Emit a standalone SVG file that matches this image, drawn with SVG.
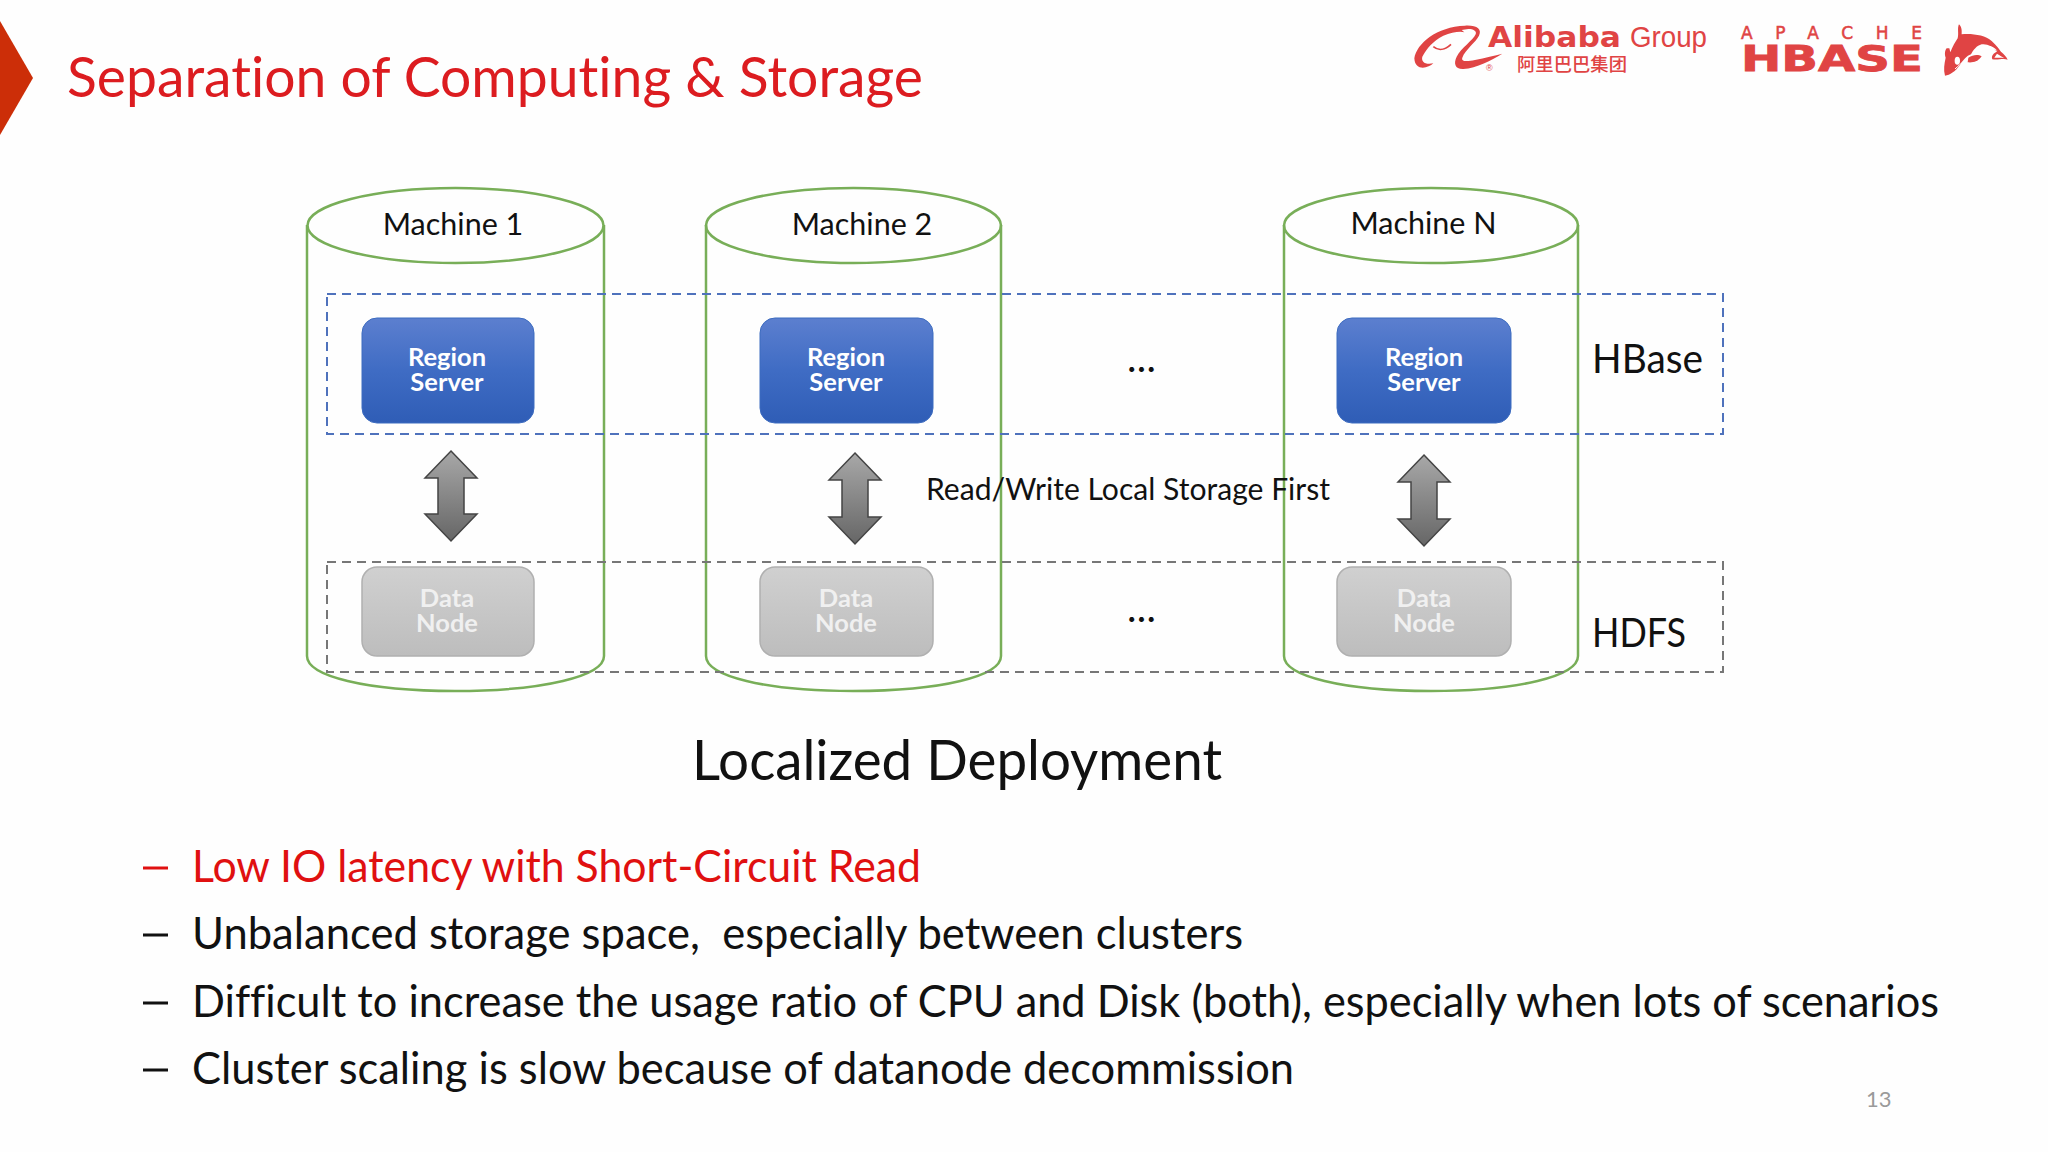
<svg xmlns="http://www.w3.org/2000/svg" width="2048" height="1152" viewBox="0 0 2048 1152">
<style>
text{font-family:"Lato","Liberation Sans",sans-serif;font-variant-ligatures:none}
.cyl{fill:none;stroke:#78ae58;stroke-width:2.5}
.rs{fill:url(#blue);stroke:#3d6cc0;stroke-width:1}
.dn{fill:url(#gray);stroke:#b0b0b0;stroke-width:1.5}
.rt{font-size:25.500px;font-weight:700;fill:#fff;text-anchor:middle}
.dt{font-size:25.500px;font-weight:700;fill:#f0f0f0;text-anchor:middle}
.m{font-size:30.500px;fill:#111;text-anchor:middle}
.b{font-size:45px;fill:#111}
.dash{stroke:#111;stroke-width:3}
.logo{fill:#e04444}
.arr{fill:url(#ag);stroke:#444;stroke-width:1.5}
</style>
<defs>
<linearGradient id="blue" x1="0" y1="0" x2="0" y2="1"><stop offset="0" stop-color="#5c7fcf"/><stop offset="0.5" stop-color="#3f6cc4"/><stop offset="1" stop-color="#2f5db6"/></linearGradient>
<linearGradient id="gray" x1="0" y1="0" x2="0" y2="1"><stop offset="0" stop-color="#d0d0d0"/><stop offset="1" stop-color="#bdbdbd"/></linearGradient>
<linearGradient id="ag" x1="0" y1="0" x2="0" y2="1"><stop offset="0" stop-color="#a8a8a8"/><stop offset="1" stop-color="#666"/></linearGradient>
</defs>
<rect width="2048" height="1152" fill="#fefefe"/>
<polygon id="marker" points="0,21 33,78 0,135" fill="#cc2e08"/>
<text id="title" x="67" y="97" font-size="56" fill="#dc1c20" textLength="856" lengthAdjust="spacingAndGlyphs">Separation of Computing &amp; Storage</text>

<g id="logos">
<g transform="translate(1405 15) scale(.3333)">
<path class="logo" d="M28 130C35 85 95 35 180 32C215 30 232 42 222 62C212 82 180 105 172 128C168 140 185 140 210 135C240 128 270 122 292 116C260 135 215 160 175 162C150 163 145 145 155 125C168 100 205 75 212 58C216 48 205 42 190 42L170 45L178 52C165 48 140 52 115 62C85 78 65 100 52 125C48 140 60 150 85 145C70 160 30 170 28 130Z"/>
<path d="M85 95C100 108 120 105 138 88" fill="none" stroke="#e04444" stroke-width="5"/>
</g>
<text class="logo" x="1486" y="71" font-size="9" style="font-family:'Liberation Sans',sans-serif">®</text>
<text class="logo" x="1488" y="47" font-size="28" textLength="133" lengthAdjust="spacingAndGlyphs" style="font-family:'DejaVu Sans',sans-serif;font-weight:700">Alibaba</text>
<text class="logo" x="1630" y="47" font-size="29" textLength="77" lengthAdjust="spacingAndGlyphs" style="font-family:'Liberation Sans',sans-serif">Group</text>
<text class="logo" x="1517" y="71" font-size="18.500" textLength="110" lengthAdjust="spacingAndGlyphs" style="font-family:'Noto Sans CJK SC',sans-serif;font-weight:500">阿里巴巴集团</text>
<text class="logo" x="1741" y="39" font-size="17" textLength="181" lengthAdjust="spacing" stroke="#e04444" stroke-width=".5" style="font-family:'DejaVu Sans',sans-serif">APACHE</text>
<text class="logo" x="1741" y="71" font-size="36" textLength="182" lengthAdjust="spacingAndGlyphs" stroke="#e04444" stroke-width=".8" style="font-family:'DejaVu Sans',sans-serif;font-weight:700">HBASE</text>
<g id="orca" transform="translate(1935 15) scale(.3333)">
<path class="logo" d="M72 28C82 38 80 50 80 58C110 55 150 60 170 78C185 92 192 102 198 110C208 118 214 125 218 134C205 128 190 136 172 133C168 122 176 114 186 110C175 95 155 85 140 88C125 92 115 105 108 118C95 122 85 135 75 150C60 170 45 180 30 182C25 165 28 145 32 128C28 118 30 105 35 100L43 100L46 112C52 95 62 80 68 70C72 55 66 40 72 28Z"/>
<path d="M128 110C140 88 170 86 188 108C170 97 150 100 128 112ZM178 128L186 116L208 130C198 127 188 129 178 128Z" fill="#fff"/>
<ellipse cx="67" cy="137" rx="8" ry="12" fill="#fff"/>
<path d="M60 162C78 145 100 125 130 116" fill="none" stroke="#fff" stroke-width="3"/>
<path class="logo" d="M100 128C115 118 130 118 140 124C130 140 112 144 98 142Z"/>
</g>
</g>

<g id="machine-1"><path class="cyl" d="M307 225V656C307 676 366 691 455 691C544 691 604 676 604 656V225"/><ellipse class="cyl" cx="455.500" cy="225.500" rx="148" ry="37.500"/><text class="m" x="453" y="235">Machine 1</text></g>
<g id="machine-2"><path class="cyl" d="M706 225V656C706 676 765 691 853 691C942 691 1001 676 1001 656V225"/><ellipse class="cyl" cx="853.500" cy="225.500" rx="147.500" ry="37.500"/><text class="m" x="862" y="235">Machine 2</text></g>
<g id="machine-n"><path class="cyl" d="M1284 225V656C1284 676 1343 691 1431 691C1519 691 1578 676 1578 656V225"/><ellipse class="cyl" cx="1431" cy="225.500" rx="147" ry="37.500"/><text class="m" x="1423.500" y="234">Machine N</text></g>

<g id="hbase-group"><rect x="327" y="294" width="1396" height="140" fill="none" stroke="#4f72bc" stroke-width="2" stroke-dasharray="9 6"/><text x="1592" y="373" font-size="40" fill="#111" textLength="111" lengthAdjust="spacingAndGlyphs">HBase</text></g>
<g id="hdfs-group"><rect x="327" y="562" width="1396" height="110" fill="none" stroke="#777" stroke-width="2" stroke-dasharray="9 6"/><text x="1592" y="647" font-size="40" fill="#111" textLength="94" lengthAdjust="spacingAndGlyphs">HDFS</text></g>

<g id="rs-1"><rect class="rs" x="362" y="318" width="172" height="105" rx="15"/><text class="rt"><tspan x="447" y="366">Region</tspan><tspan x="447" y="391">Server</tspan></text></g>
<g id="rs-2"><rect class="rs" x="760" y="318" width="173" height="105" rx="15"/><text class="rt"><tspan x="846" y="366">Region</tspan><tspan x="846" y="391">Server</tspan></text></g>
<g id="rs-n"><rect class="rs" x="1337" y="318" width="174" height="105" rx="15"/><text class="rt"><tspan x="1424" y="366">Region</tspan><tspan x="1424" y="391">Server</tspan></text></g>
<g id="dn-1"><rect class="dn" x="362" y="567" width="172" height="89" rx="15"/><text class="dt"><tspan x="447" y="607">Data</tspan><tspan x="447" y="632">Node</tspan></text></g>
<g id="dn-2"><rect class="dn" x="760" y="567" width="173" height="89" rx="15"/><text class="dt"><tspan x="846" y="607">Data</tspan><tspan x="846" y="632">Node</tspan></text></g>
<g id="dn-n"><rect class="dn" x="1337" y="567" width="174" height="89" rx="15"/><text class="dt"><tspan x="1424" y="607">Data</tspan><tspan x="1424" y="632">Node</tspan></text></g>

<g id="connectors">
<polygon class="arr" points="451,451 477,478 464,478 464,514 477,514 451,541 425,514 438,514 438,478 425,478"/>
<polygon class="arr" points="855,453 881,480 868,480 868,517 881,517 855,544 829,517 842,517 842,480 829,480"/>
<polygon class="arr" points="1424,455 1450,482 1437,482 1437,519 1450,519 1424,546 1398,519 1411,519 1411,482 1398,482"/>
</g>

<g id="labels">
<text x="1127" y="372" font-size="40" fill="#111" textLength="29">...</text>
<text x="1127" y="622" font-size="40" fill="#111" textLength="29">...</text>
<text x="926" y="500" font-size="31" fill="#111" textLength="404" lengthAdjust="spacingAndGlyphs">Read/Write Local Storage First</text>
<text x="692" y="780" font-size="56" fill="#111" textLength="530" lengthAdjust="spacingAndGlyphs">Localized Deployment</text>
</g>

<g id="bullets">
<line x1="143" y1="868" x2="168" y2="868" class="dash" style="stroke:#e01010"/>
<text x="192" y="882" class="b" style="fill:#e01010" textLength="729" lengthAdjust="spacingAndGlyphs">Low IO latency with Short-Circuit Read</text>
<line x1="143" y1="935" x2="168" y2="935" class="dash"/>
<text x="192" y="949" class="b" style="white-space:pre" textLength="1051" lengthAdjust="spacingAndGlyphs">Unbalanced storage space,  especially between clusters</text>
<line x1="143" y1="1003" x2="168" y2="1003" class="dash"/>
<text x="192" y="1017" class="b" textLength="1747" lengthAdjust="spacingAndGlyphs">Difficult to increase the usage ratio of CPU and Disk (both), especially when lots of scenarios</text>
<line x1="143" y1="1070" x2="168" y2="1070" class="dash"/>
<text x="192" y="1084" class="b" textLength="1102" lengthAdjust="spacingAndGlyphs">Cluster scaling is slow because of datanode decommission</text>
</g>
<text id="page-number" x="1866" y="1107" font-size="22" fill="#9a9a9a">13</text>
</svg>
